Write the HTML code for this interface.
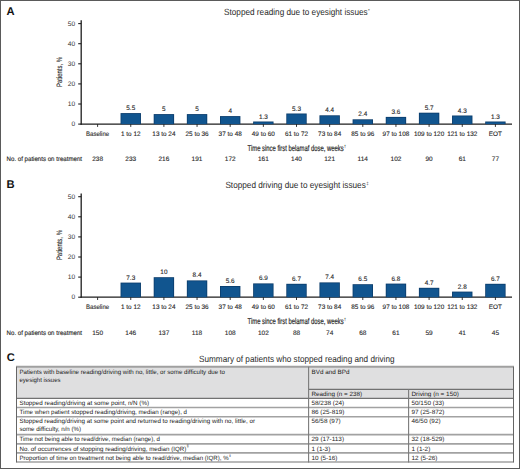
<!DOCTYPE html>
<html><head><meta charset="utf-8"><style>
html,body{margin:0;padding:0;background:#fff;}
body{width:520px;height:469px;overflow:hidden;position:relative;font-family:"Liberation Sans", sans-serif;}
svg{position:absolute;left:0;top:0;font-family:"Liberation Sans", sans-serif;text-rendering:geometricPrecision;}
</style></head><body>
<svg width="520" height="469" viewBox="0 0 520 469">
<rect x="0" y="0" width="520" height="469" fill="#fff"/>
<text x="6.6" y="15" font-size="11.2" font-weight="bold" fill="#111">A</text>
<text x="224" y="15.3" font-size="9" fill="#2a2a2a" textLength="143.7" lengthAdjust="spacingAndGlyphs">Stopped reading due to eyesight issues</text>
<text x="368.09999999999997" y="12.2" font-size="4.5" fill="#2a2a2a">*</text>
<line x1="81.2" y1="20.3" x2="81.2" y2="124.69999999999999" stroke="#1e1e1e" stroke-width="1.3"/>
<line x1="78.2" y1="124.10" x2="81.2" y2="124.10" stroke="#1e1e1e" stroke-width="1.1"/>
<text x="75.2" y="126.00" font-size="6.6" fill="#333" text-anchor="end">0</text>
<line x1="78.2" y1="104.00" x2="81.2" y2="104.00" stroke="#1e1e1e" stroke-width="1.1"/>
<text x="75.2" y="105.90" font-size="6.6" fill="#333" text-anchor="end">10</text>
<line x1="78.2" y1="83.90" x2="81.2" y2="83.90" stroke="#1e1e1e" stroke-width="1.1"/>
<text x="75.2" y="85.80" font-size="6.6" fill="#333" text-anchor="end">20</text>
<line x1="78.2" y1="63.80" x2="81.2" y2="63.80" stroke="#1e1e1e" stroke-width="1.1"/>
<text x="75.2" y="65.70" font-size="6.6" fill="#333" text-anchor="end">30</text>
<line x1="78.2" y1="43.70" x2="81.2" y2="43.70" stroke="#1e1e1e" stroke-width="1.1"/>
<text x="75.2" y="45.60" font-size="6.6" fill="#333" text-anchor="end">40</text>
<line x1="78.2" y1="23.60" x2="81.2" y2="23.60" stroke="#1e1e1e" stroke-width="1.1"/>
<text x="75.2" y="25.50" font-size="6.6" fill="#333" text-anchor="end">50</text>
<text transform="translate(62.3,72) rotate(-90)" font-size="7.8" fill="#2a2a2a" stroke="#2a2a2a" stroke-width="0.12" text-anchor="middle" textLength="30" lengthAdjust="spacingAndGlyphs">Patients, %</text>
<line x1="80.6" y1="124.1" x2="512" y2="124.1" stroke="#1e1e1e" stroke-width="1.3"/>
<line x1="97.60" y1="124.1" x2="97.60" y2="126.89999999999999" stroke="#1e1e1e" stroke-width="0.9"/>
<text x="97.60" y="136" font-size="6.4" fill="#2a2a2a" stroke="#2a2a2a" stroke-width="0.12" text-anchor="middle" textLength="23.08" lengthAdjust="spacingAndGlyphs">Baseline</text>
<text x="97.60" y="161.4" font-size="6.5" fill="#2a2a2a" stroke="#2a2a2a" stroke-width="0.12" text-anchor="middle">238</text>
<rect x="120.55" y="113.10" width="20.4" height="11.00" fill="#0b3c6b"/>
<rect x="121.35" y="113.90" width="18.799999999999997" height="10.20" fill="#11558f"/>
<text x="130.75" y="110.10" font-size="6.4" fill="#2a2a2a" stroke="#2a2a2a" stroke-width="0.12" text-anchor="middle">5.5</text>
<line x1="130.75" y1="124.1" x2="130.75" y2="126.89999999999999" stroke="#1e1e1e" stroke-width="0.9"/>
<text x="130.75" y="136" font-size="6.4" fill="#2a2a2a" stroke="#2a2a2a" stroke-width="0.12" text-anchor="middle" textLength="19.57" lengthAdjust="spacingAndGlyphs">1 to 12</text>
<text x="130.75" y="161.4" font-size="6.5" fill="#2a2a2a" stroke="#2a2a2a" stroke-width="0.12" text-anchor="middle">233</text>
<rect x="153.70" y="114.10" width="20.4" height="10.00" fill="#0b3c6b"/>
<rect x="154.50" y="114.90" width="18.799999999999997" height="9.20" fill="#11558f"/>
<text x="163.90" y="111.10" font-size="6.4" fill="#2a2a2a" stroke="#2a2a2a" stroke-width="0.12" text-anchor="middle">5</text>
<line x1="163.90" y1="124.1" x2="163.90" y2="126.89999999999999" stroke="#1e1e1e" stroke-width="0.9"/>
<text x="163.90" y="136" font-size="6.4" fill="#2a2a2a" stroke="#2a2a2a" stroke-width="0.12" text-anchor="middle" textLength="23.13" lengthAdjust="spacingAndGlyphs">13 to 24</text>
<text x="163.90" y="161.4" font-size="6.5" fill="#2a2a2a" stroke="#2a2a2a" stroke-width="0.12" text-anchor="middle">216</text>
<rect x="186.85" y="114.10" width="20.4" height="10.00" fill="#0b3c6b"/>
<rect x="187.65" y="114.90" width="18.799999999999997" height="9.20" fill="#11558f"/>
<text x="197.05" y="111.10" font-size="6.4" fill="#2a2a2a" stroke="#2a2a2a" stroke-width="0.12" text-anchor="middle">5</text>
<line x1="197.05" y1="124.1" x2="197.05" y2="126.89999999999999" stroke="#1e1e1e" stroke-width="0.9"/>
<text x="197.05" y="136" font-size="6.4" fill="#2a2a2a" stroke="#2a2a2a" stroke-width="0.12" text-anchor="middle" textLength="23.13" lengthAdjust="spacingAndGlyphs">25 to 36</text>
<text x="197.05" y="161.4" font-size="6.5" fill="#2a2a2a" stroke="#2a2a2a" stroke-width="0.12" text-anchor="middle">191</text>
<rect x="220.00" y="116.10" width="20.4" height="8.00" fill="#0b3c6b"/>
<rect x="220.80" y="116.90" width="18.799999999999997" height="7.20" fill="#11558f"/>
<text x="230.20" y="113.10" font-size="6.4" fill="#2a2a2a" stroke="#2a2a2a" stroke-width="0.12" text-anchor="middle">4</text>
<line x1="230.20" y1="124.1" x2="230.20" y2="126.89999999999999" stroke="#1e1e1e" stroke-width="0.9"/>
<text x="230.20" y="136" font-size="6.4" fill="#2a2a2a" stroke="#2a2a2a" stroke-width="0.12" text-anchor="middle" textLength="23.13" lengthAdjust="spacingAndGlyphs">37 to 48</text>
<text x="230.20" y="161.4" font-size="6.5" fill="#2a2a2a" stroke="#2a2a2a" stroke-width="0.12" text-anchor="middle">172</text>
<rect x="253.15" y="121.50" width="20.4" height="2.60" fill="#0b3c6b"/>
<rect x="253.95" y="122.30" width="18.799999999999997" height="1.80" fill="#11558f"/>
<text x="263.35" y="118.50" font-size="6.4" fill="#2a2a2a" stroke="#2a2a2a" stroke-width="0.12" text-anchor="middle">1.3</text>
<line x1="263.35" y1="124.1" x2="263.35" y2="126.89999999999999" stroke="#1e1e1e" stroke-width="0.9"/>
<text x="263.35" y="136" font-size="6.4" fill="#2a2a2a" stroke="#2a2a2a" stroke-width="0.12" text-anchor="middle" textLength="23.13" lengthAdjust="spacingAndGlyphs">49 to 60</text>
<text x="263.35" y="161.4" font-size="6.5" fill="#2a2a2a" stroke="#2a2a2a" stroke-width="0.12" text-anchor="middle">161</text>
<rect x="286.30" y="113.50" width="20.4" height="10.60" fill="#0b3c6b"/>
<rect x="287.10" y="114.30" width="18.799999999999997" height="9.80" fill="#11558f"/>
<text x="296.50" y="110.50" font-size="6.4" fill="#2a2a2a" stroke="#2a2a2a" stroke-width="0.12" text-anchor="middle">5.3</text>
<line x1="296.50" y1="124.1" x2="296.50" y2="126.89999999999999" stroke="#1e1e1e" stroke-width="0.9"/>
<text x="296.50" y="136" font-size="6.4" fill="#2a2a2a" stroke="#2a2a2a" stroke-width="0.12" text-anchor="middle" textLength="23.13" lengthAdjust="spacingAndGlyphs">61 to 72</text>
<text x="296.50" y="161.4" font-size="6.5" fill="#2a2a2a" stroke="#2a2a2a" stroke-width="0.12" text-anchor="middle">140</text>
<rect x="319.45" y="115.30" width="20.4" height="8.80" fill="#0b3c6b"/>
<rect x="320.25" y="116.10" width="18.799999999999997" height="8.00" fill="#11558f"/>
<text x="329.65" y="112.30" font-size="6.4" fill="#2a2a2a" stroke="#2a2a2a" stroke-width="0.12" text-anchor="middle">4.4</text>
<line x1="329.65" y1="124.1" x2="329.65" y2="126.89999999999999" stroke="#1e1e1e" stroke-width="0.9"/>
<text x="329.65" y="136" font-size="6.4" fill="#2a2a2a" stroke="#2a2a2a" stroke-width="0.12" text-anchor="middle" textLength="23.13" lengthAdjust="spacingAndGlyphs">73 to 84</text>
<text x="329.65" y="161.4" font-size="6.5" fill="#2a2a2a" stroke="#2a2a2a" stroke-width="0.12" text-anchor="middle">121</text>
<rect x="352.60" y="119.30" width="20.4" height="4.80" fill="#0b3c6b"/>
<rect x="353.40" y="120.10" width="18.799999999999997" height="4.00" fill="#11558f"/>
<text x="362.80" y="116.30" font-size="6.4" fill="#2a2a2a" stroke="#2a2a2a" stroke-width="0.12" text-anchor="middle">2.4</text>
<line x1="362.80" y1="124.1" x2="362.80" y2="126.89999999999999" stroke="#1e1e1e" stroke-width="0.9"/>
<text x="362.80" y="136" font-size="6.4" fill="#2a2a2a" stroke="#2a2a2a" stroke-width="0.12" text-anchor="middle" textLength="23.13" lengthAdjust="spacingAndGlyphs">85 to 96</text>
<text x="362.80" y="161.4" font-size="6.5" fill="#2a2a2a" stroke="#2a2a2a" stroke-width="0.12" text-anchor="middle">114</text>
<rect x="385.75" y="116.90" width="20.4" height="7.20" fill="#0b3c6b"/>
<rect x="386.55" y="117.70" width="18.799999999999997" height="6.40" fill="#11558f"/>
<text x="395.95" y="113.90" font-size="6.4" fill="#2a2a2a" stroke="#2a2a2a" stroke-width="0.12" text-anchor="middle">3.6</text>
<line x1="395.95" y1="124.1" x2="395.95" y2="126.89999999999999" stroke="#1e1e1e" stroke-width="0.9"/>
<text x="395.95" y="136" font-size="6.4" fill="#2a2a2a" stroke="#2a2a2a" stroke-width="0.12" text-anchor="middle" textLength="26.69" lengthAdjust="spacingAndGlyphs">97 to 108</text>
<text x="395.95" y="161.4" font-size="6.5" fill="#2a2a2a" stroke="#2a2a2a" stroke-width="0.12" text-anchor="middle">102</text>
<rect x="418.90" y="112.70" width="20.4" height="11.40" fill="#0b3c6b"/>
<rect x="419.70" y="113.50" width="18.799999999999997" height="10.60" fill="#11558f"/>
<text x="429.10" y="109.70" font-size="6.4" fill="#2a2a2a" stroke="#2a2a2a" stroke-width="0.12" text-anchor="middle">5.7</text>
<line x1="429.10" y1="124.1" x2="429.10" y2="126.89999999999999" stroke="#1e1e1e" stroke-width="0.9"/>
<text x="429.10" y="136" font-size="6.4" fill="#2a2a2a" stroke="#2a2a2a" stroke-width="0.12" text-anchor="middle" textLength="30.25" lengthAdjust="spacingAndGlyphs">109 to 120</text>
<text x="429.10" y="161.4" font-size="6.5" fill="#2a2a2a" stroke="#2a2a2a" stroke-width="0.12" text-anchor="middle">90</text>
<rect x="452.05" y="115.50" width="20.4" height="8.60" fill="#0b3c6b"/>
<rect x="452.85" y="116.30" width="18.799999999999997" height="7.80" fill="#11558f"/>
<text x="462.25" y="112.50" font-size="6.4" fill="#2a2a2a" stroke="#2a2a2a" stroke-width="0.12" text-anchor="middle">4.3</text>
<line x1="462.25" y1="124.1" x2="462.25" y2="126.89999999999999" stroke="#1e1e1e" stroke-width="0.9"/>
<text x="462.25" y="136" font-size="6.4" fill="#2a2a2a" stroke="#2a2a2a" stroke-width="0.12" text-anchor="middle" textLength="30.25" lengthAdjust="spacingAndGlyphs">121 to 132</text>
<text x="462.25" y="161.4" font-size="6.5" fill="#2a2a2a" stroke="#2a2a2a" stroke-width="0.12" text-anchor="middle">61</text>
<rect x="485.20" y="121.50" width="20.4" height="2.60" fill="#0b3c6b"/>
<rect x="486.00" y="122.30" width="18.799999999999997" height="1.80" fill="#11558f"/>
<text x="495.40" y="118.50" font-size="6.4" fill="#2a2a2a" stroke="#2a2a2a" stroke-width="0.12" text-anchor="middle">1.3</text>
<line x1="495.40" y1="124.1" x2="495.40" y2="126.89999999999999" stroke="#1e1e1e" stroke-width="0.9"/>
<text x="495.40" y="136" font-size="6.4" fill="#2a2a2a" stroke="#2a2a2a" stroke-width="0.12" text-anchor="middle" textLength="13.16" lengthAdjust="spacingAndGlyphs">EOT</text>
<text x="495.40" y="161.4" font-size="6.5" fill="#2a2a2a" stroke="#2a2a2a" stroke-width="0.12" text-anchor="middle">77</text>
<text x="247.6" y="150.6" font-size="8.4" fill="#2a2a2a" stroke="#2a2a2a" stroke-width="0.2" textLength="96" lengthAdjust="spacingAndGlyphs">Time since first belamaf dose, weeks</text>
<text x="343.8" y="148.1" font-size="4.5" fill="#2a2a2a">†</text>
<text x="6.6" y="161.4" font-size="6.6" fill="#2a2a2a" stroke="#2a2a2a" stroke-width="0.15" textLength="75.4" lengthAdjust="spacingAndGlyphs">No. of patients on treatment</text>
<text x="6.6" y="188.1" font-size="11.2" font-weight="bold" fill="#111">B</text>
<text x="225.4" y="188.4" font-size="9" fill="#2a2a2a" textLength="140.4" lengthAdjust="spacingAndGlyphs">Stopped driving due to eyesight issues</text>
<text x="366.2" y="185.29999999999998" font-size="4.5" fill="#2a2a2a">‡</text>
<line x1="81.2" y1="193.4" x2="81.2" y2="297.8" stroke="#1e1e1e" stroke-width="1.3"/>
<line x1="78.2" y1="297.20" x2="81.2" y2="297.20" stroke="#1e1e1e" stroke-width="1.1"/>
<text x="75.2" y="299.10" font-size="6.6" fill="#333" text-anchor="end">0</text>
<line x1="78.2" y1="277.10" x2="81.2" y2="277.10" stroke="#1e1e1e" stroke-width="1.1"/>
<text x="75.2" y="279.00" font-size="6.6" fill="#333" text-anchor="end">10</text>
<line x1="78.2" y1="257.00" x2="81.2" y2="257.00" stroke="#1e1e1e" stroke-width="1.1"/>
<text x="75.2" y="258.90" font-size="6.6" fill="#333" text-anchor="end">20</text>
<line x1="78.2" y1="236.90" x2="81.2" y2="236.90" stroke="#1e1e1e" stroke-width="1.1"/>
<text x="75.2" y="238.80" font-size="6.6" fill="#333" text-anchor="end">30</text>
<line x1="78.2" y1="216.80" x2="81.2" y2="216.80" stroke="#1e1e1e" stroke-width="1.1"/>
<text x="75.2" y="218.70" font-size="6.6" fill="#333" text-anchor="end">40</text>
<line x1="78.2" y1="196.70" x2="81.2" y2="196.70" stroke="#1e1e1e" stroke-width="1.1"/>
<text x="75.2" y="198.60" font-size="6.6" fill="#333" text-anchor="end">50</text>
<text transform="translate(62.3,245.1) rotate(-90)" font-size="7.8" fill="#2a2a2a" stroke="#2a2a2a" stroke-width="0.12" text-anchor="middle" textLength="30" lengthAdjust="spacingAndGlyphs">Patients, %</text>
<line x1="80.6" y1="297.2" x2="512" y2="297.2" stroke="#1e1e1e" stroke-width="1.3"/>
<line x1="97.60" y1="297.2" x2="97.60" y2="300.0" stroke="#1e1e1e" stroke-width="0.9"/>
<text x="97.60" y="309.1" font-size="6.4" fill="#2a2a2a" stroke="#2a2a2a" stroke-width="0.12" text-anchor="middle" textLength="23.08" lengthAdjust="spacingAndGlyphs">Baseline</text>
<text x="97.60" y="334.5" font-size="6.5" fill="#2a2a2a" stroke="#2a2a2a" stroke-width="0.12" text-anchor="middle">150</text>
<rect x="120.55" y="282.60" width="20.4" height="14.60" fill="#0b3c6b"/>
<rect x="121.35" y="283.40" width="18.799999999999997" height="13.80" fill="#11558f"/>
<text x="130.75" y="279.60" font-size="6.4" fill="#2a2a2a" stroke="#2a2a2a" stroke-width="0.12" text-anchor="middle">7.3</text>
<line x1="130.75" y1="297.2" x2="130.75" y2="300.0" stroke="#1e1e1e" stroke-width="0.9"/>
<text x="130.75" y="309.1" font-size="6.4" fill="#2a2a2a" stroke="#2a2a2a" stroke-width="0.12" text-anchor="middle" textLength="19.57" lengthAdjust="spacingAndGlyphs">1 to 12</text>
<text x="130.75" y="334.5" font-size="6.5" fill="#2a2a2a" stroke="#2a2a2a" stroke-width="0.12" text-anchor="middle">146</text>
<rect x="153.70" y="277.20" width="20.4" height="20.00" fill="#0b3c6b"/>
<rect x="154.50" y="278.00" width="18.799999999999997" height="19.20" fill="#11558f"/>
<text x="163.90" y="274.20" font-size="6.4" fill="#2a2a2a" stroke="#2a2a2a" stroke-width="0.12" text-anchor="middle">10</text>
<line x1="163.90" y1="297.2" x2="163.90" y2="300.0" stroke="#1e1e1e" stroke-width="0.9"/>
<text x="163.90" y="309.1" font-size="6.4" fill="#2a2a2a" stroke="#2a2a2a" stroke-width="0.12" text-anchor="middle" textLength="23.13" lengthAdjust="spacingAndGlyphs">13 to 24</text>
<text x="163.90" y="334.5" font-size="6.5" fill="#2a2a2a" stroke="#2a2a2a" stroke-width="0.12" text-anchor="middle">137</text>
<rect x="186.85" y="280.40" width="20.4" height="16.80" fill="#0b3c6b"/>
<rect x="187.65" y="281.20" width="18.799999999999997" height="16.00" fill="#11558f"/>
<text x="197.05" y="277.40" font-size="6.4" fill="#2a2a2a" stroke="#2a2a2a" stroke-width="0.12" text-anchor="middle">8.4</text>
<line x1="197.05" y1="297.2" x2="197.05" y2="300.0" stroke="#1e1e1e" stroke-width="0.9"/>
<text x="197.05" y="309.1" font-size="6.4" fill="#2a2a2a" stroke="#2a2a2a" stroke-width="0.12" text-anchor="middle" textLength="23.13" lengthAdjust="spacingAndGlyphs">25 to 36</text>
<text x="197.05" y="334.5" font-size="6.5" fill="#2a2a2a" stroke="#2a2a2a" stroke-width="0.12" text-anchor="middle">118</text>
<rect x="220.00" y="286.00" width="20.4" height="11.20" fill="#0b3c6b"/>
<rect x="220.80" y="286.80" width="18.799999999999997" height="10.40" fill="#11558f"/>
<text x="230.20" y="283.00" font-size="6.4" fill="#2a2a2a" stroke="#2a2a2a" stroke-width="0.12" text-anchor="middle">5.6</text>
<line x1="230.20" y1="297.2" x2="230.20" y2="300.0" stroke="#1e1e1e" stroke-width="0.9"/>
<text x="230.20" y="309.1" font-size="6.4" fill="#2a2a2a" stroke="#2a2a2a" stroke-width="0.12" text-anchor="middle" textLength="23.13" lengthAdjust="spacingAndGlyphs">37 to 48</text>
<text x="230.20" y="334.5" font-size="6.5" fill="#2a2a2a" stroke="#2a2a2a" stroke-width="0.12" text-anchor="middle">108</text>
<rect x="253.15" y="283.40" width="20.4" height="13.80" fill="#0b3c6b"/>
<rect x="253.95" y="284.20" width="18.799999999999997" height="13.00" fill="#11558f"/>
<text x="263.35" y="280.40" font-size="6.4" fill="#2a2a2a" stroke="#2a2a2a" stroke-width="0.12" text-anchor="middle">6.9</text>
<line x1="263.35" y1="297.2" x2="263.35" y2="300.0" stroke="#1e1e1e" stroke-width="0.9"/>
<text x="263.35" y="309.1" font-size="6.4" fill="#2a2a2a" stroke="#2a2a2a" stroke-width="0.12" text-anchor="middle" textLength="23.13" lengthAdjust="spacingAndGlyphs">49 to 60</text>
<text x="263.35" y="334.5" font-size="6.5" fill="#2a2a2a" stroke="#2a2a2a" stroke-width="0.12" text-anchor="middle">102</text>
<rect x="286.30" y="283.80" width="20.4" height="13.40" fill="#0b3c6b"/>
<rect x="287.10" y="284.60" width="18.799999999999997" height="12.60" fill="#11558f"/>
<text x="296.50" y="280.80" font-size="6.4" fill="#2a2a2a" stroke="#2a2a2a" stroke-width="0.12" text-anchor="middle">6.7</text>
<line x1="296.50" y1="297.2" x2="296.50" y2="300.0" stroke="#1e1e1e" stroke-width="0.9"/>
<text x="296.50" y="309.1" font-size="6.4" fill="#2a2a2a" stroke="#2a2a2a" stroke-width="0.12" text-anchor="middle" textLength="23.13" lengthAdjust="spacingAndGlyphs">61 to 72</text>
<text x="296.50" y="334.5" font-size="6.5" fill="#2a2a2a" stroke="#2a2a2a" stroke-width="0.12" text-anchor="middle">88</text>
<rect x="319.45" y="282.40" width="20.4" height="14.80" fill="#0b3c6b"/>
<rect x="320.25" y="283.20" width="18.799999999999997" height="14.00" fill="#11558f"/>
<text x="329.65" y="279.40" font-size="6.4" fill="#2a2a2a" stroke="#2a2a2a" stroke-width="0.12" text-anchor="middle">7.4</text>
<line x1="329.65" y1="297.2" x2="329.65" y2="300.0" stroke="#1e1e1e" stroke-width="0.9"/>
<text x="329.65" y="309.1" font-size="6.4" fill="#2a2a2a" stroke="#2a2a2a" stroke-width="0.12" text-anchor="middle" textLength="23.13" lengthAdjust="spacingAndGlyphs">73 to 84</text>
<text x="329.65" y="334.5" font-size="6.5" fill="#2a2a2a" stroke="#2a2a2a" stroke-width="0.12" text-anchor="middle">74</text>
<rect x="352.60" y="284.20" width="20.4" height="13.00" fill="#0b3c6b"/>
<rect x="353.40" y="285.00" width="18.799999999999997" height="12.20" fill="#11558f"/>
<text x="362.80" y="281.20" font-size="6.4" fill="#2a2a2a" stroke="#2a2a2a" stroke-width="0.12" text-anchor="middle">6.5</text>
<line x1="362.80" y1="297.2" x2="362.80" y2="300.0" stroke="#1e1e1e" stroke-width="0.9"/>
<text x="362.80" y="309.1" font-size="6.4" fill="#2a2a2a" stroke="#2a2a2a" stroke-width="0.12" text-anchor="middle" textLength="23.13" lengthAdjust="spacingAndGlyphs">85 to 96</text>
<text x="362.80" y="334.5" font-size="6.5" fill="#2a2a2a" stroke="#2a2a2a" stroke-width="0.12" text-anchor="middle">68</text>
<rect x="385.75" y="283.60" width="20.4" height="13.60" fill="#0b3c6b"/>
<rect x="386.55" y="284.40" width="18.799999999999997" height="12.80" fill="#11558f"/>
<text x="395.95" y="280.60" font-size="6.4" fill="#2a2a2a" stroke="#2a2a2a" stroke-width="0.12" text-anchor="middle">6.8</text>
<line x1="395.95" y1="297.2" x2="395.95" y2="300.0" stroke="#1e1e1e" stroke-width="0.9"/>
<text x="395.95" y="309.1" font-size="6.4" fill="#2a2a2a" stroke="#2a2a2a" stroke-width="0.12" text-anchor="middle" textLength="26.69" lengthAdjust="spacingAndGlyphs">97 to 108</text>
<text x="395.95" y="334.5" font-size="6.5" fill="#2a2a2a" stroke="#2a2a2a" stroke-width="0.12" text-anchor="middle">61</text>
<rect x="418.90" y="287.80" width="20.4" height="9.40" fill="#0b3c6b"/>
<rect x="419.70" y="288.60" width="18.799999999999997" height="8.60" fill="#11558f"/>
<text x="429.10" y="284.80" font-size="6.4" fill="#2a2a2a" stroke="#2a2a2a" stroke-width="0.12" text-anchor="middle">4.7</text>
<line x1="429.10" y1="297.2" x2="429.10" y2="300.0" stroke="#1e1e1e" stroke-width="0.9"/>
<text x="429.10" y="309.1" font-size="6.4" fill="#2a2a2a" stroke="#2a2a2a" stroke-width="0.12" text-anchor="middle" textLength="30.25" lengthAdjust="spacingAndGlyphs">109 to 120</text>
<text x="429.10" y="334.5" font-size="6.5" fill="#2a2a2a" stroke="#2a2a2a" stroke-width="0.12" text-anchor="middle">59</text>
<rect x="452.05" y="291.60" width="20.4" height="5.60" fill="#0b3c6b"/>
<rect x="452.85" y="292.40" width="18.799999999999997" height="4.80" fill="#11558f"/>
<text x="462.25" y="288.60" font-size="6.4" fill="#2a2a2a" stroke="#2a2a2a" stroke-width="0.12" text-anchor="middle">2.8</text>
<line x1="462.25" y1="297.2" x2="462.25" y2="300.0" stroke="#1e1e1e" stroke-width="0.9"/>
<text x="462.25" y="309.1" font-size="6.4" fill="#2a2a2a" stroke="#2a2a2a" stroke-width="0.12" text-anchor="middle" textLength="30.25" lengthAdjust="spacingAndGlyphs">121 to 132</text>
<text x="462.25" y="334.5" font-size="6.5" fill="#2a2a2a" stroke="#2a2a2a" stroke-width="0.12" text-anchor="middle">41</text>
<rect x="485.20" y="283.80" width="20.4" height="13.40" fill="#0b3c6b"/>
<rect x="486.00" y="284.60" width="18.799999999999997" height="12.60" fill="#11558f"/>
<text x="495.40" y="280.80" font-size="6.4" fill="#2a2a2a" stroke="#2a2a2a" stroke-width="0.12" text-anchor="middle">6.7</text>
<line x1="495.40" y1="297.2" x2="495.40" y2="300.0" stroke="#1e1e1e" stroke-width="0.9"/>
<text x="495.40" y="309.1" font-size="6.4" fill="#2a2a2a" stroke="#2a2a2a" stroke-width="0.12" text-anchor="middle" textLength="13.16" lengthAdjust="spacingAndGlyphs">EOT</text>
<text x="495.40" y="334.5" font-size="6.5" fill="#2a2a2a" stroke="#2a2a2a" stroke-width="0.12" text-anchor="middle">45</text>
<text x="247.6" y="323.7" font-size="8.4" fill="#2a2a2a" stroke="#2a2a2a" stroke-width="0.2" textLength="96" lengthAdjust="spacingAndGlyphs">Time since first belamaf dose, weeks</text>
<text x="343.8" y="321.2" font-size="4.5" fill="#2a2a2a">†</text>
<text x="6.6" y="334.5" font-size="6.6" fill="#2a2a2a" stroke="#2a2a2a" stroke-width="0.15" textLength="75.4" lengthAdjust="spacingAndGlyphs">No. of patients on treatment</text>
<text x="6.8" y="361.2" font-size="11.2" font-weight="bold" fill="#111">C</text>
<text x="199" y="361.5" font-size="9" fill="#2a2a2a" textLength="195.5" lengthAdjust="spacingAndGlyphs">Summary of patients who stopped reading and driving</text>
<rect x="16.5" y="366.8" width="497.0" height="31.5" fill="#dfdfe0"/>
<line x1="16.0" y1="366.8" x2="514.0" y2="366.8" stroke="#a0a0a0" stroke-width="2"/>
<line x1="308.6" y1="389.3" x2="513.5" y2="389.3" stroke="#555" stroke-width="1"/>
<line x1="16.5" y1="398.4" x2="513.5" y2="398.4" stroke="#727272" stroke-width="1.2"/>
<line x1="16.5" y1="407.5" x2="513.5" y2="407.5" stroke="#a2a2a2" stroke-width="1.6"/>
<line x1="16.5" y1="416.7" x2="513.5" y2="416.7" stroke="#a2a2a2" stroke-width="1.6"/>
<line x1="16.5" y1="434.6" x2="513.5" y2="434.6" stroke="#a2a2a2" stroke-width="1.6"/>
<line x1="16.5" y1="443.9" x2="513.5" y2="443.9" stroke="#a2a2a2" stroke-width="1.6"/>
<line x1="16.5" y1="452.9" x2="513.5" y2="452.9" stroke="#a2a2a2" stroke-width="1.6"/>
<line x1="16.5" y1="462.0" x2="513.5" y2="462.0" stroke="#a2a2a2" stroke-width="1.6"/>
<line x1="16.5" y1="366.8" x2="16.5" y2="462.5" stroke="#666" stroke-width="1"/>
<line x1="513.5" y1="366.8" x2="513.5" y2="462.5" stroke="#666" stroke-width="1"/>
<line x1="308.6" y1="366.8" x2="308.6" y2="462.5" stroke="#7a7a7a" stroke-width="1.1"/>
<line x1="408.6" y1="389.3" x2="408.6" y2="462.5" stroke="#7a7a7a" stroke-width="1.1"/>
<text x="19.5" y="373.6" font-size="6.2" fill="#222" stroke="none" textLength="205.50" lengthAdjust="spacingAndGlyphs">Patients with baseline reading/driving with no, little, or some difficulty due to</text>
<text x="19.5" y="381.7" font-size="6.2" fill="#222" stroke="none" textLength="41.00" lengthAdjust="spacingAndGlyphs">eyesight issues</text>
<text x="311.5" y="373.6" font-size="6.2" fill="#222" stroke="none" textLength="37.90" lengthAdjust="spacingAndGlyphs">BVd and BPd</text>
<text x="311.5" y="395.8" font-size="6.2" fill="#222" stroke="none" textLength="50.50" lengthAdjust="spacingAndGlyphs">Reading (n = 238)</text>
<text x="411.5" y="395.8" font-size="6.2" fill="#222" stroke="none" textLength="47.40" lengthAdjust="spacingAndGlyphs">Driving (n = 150)</text>
<text x="19.5" y="405.0" font-size="6.2" fill="#222" stroke="none" textLength="129.50" lengthAdjust="spacingAndGlyphs">Stopped reading/driving at some point, n/N (%)</text>
<text x="311.5" y="405.0" font-size="6.2" fill="#222" stroke="none" textLength="32.66" lengthAdjust="spacingAndGlyphs">58/238 (24)</text>
<text x="411.5" y="405.0" font-size="6.2" fill="#222" stroke="none" textLength="32.66" lengthAdjust="spacingAndGlyphs">50/150 (33)</text>
<text x="19.5" y="414.1" font-size="6.2" fill="#222" stroke="none" textLength="167.50" lengthAdjust="spacingAndGlyphs">Time when patient stopped reading/driving, median (range), d</text>
<text x="311.5" y="414.1" font-size="6.2" fill="#222" stroke="none" textLength="33.01" lengthAdjust="spacingAndGlyphs">86 (25-819)</text>
<text x="411.5" y="414.1" font-size="6.2" fill="#222" stroke="none" textLength="33.01" lengthAdjust="spacingAndGlyphs">97 (25-872)</text>
<text x="19.5" y="423.3" font-size="6.2" fill="#222" stroke="none" textLength="235.50" lengthAdjust="spacingAndGlyphs">Stopped reading/driving at some point and returned to reading/driving with no, little, or</text>
<text x="19.5" y="431.3" font-size="6.2" fill="#222" stroke="none" textLength="61.50" lengthAdjust="spacingAndGlyphs">some difficulty, n/n (%)</text>
<text x="311.5" y="423.3" font-size="6.2" fill="#222" stroke="none" textLength="29.11" lengthAdjust="spacingAndGlyphs">56/58 (97)</text>
<text x="411.5" y="423.3" font-size="6.2" fill="#222" stroke="none" textLength="29.11" lengthAdjust="spacingAndGlyphs">46/50 (92)</text>
<text x="19.5" y="441.20000000000005" font-size="6.2" fill="#222" stroke="none" textLength="140.50" lengthAdjust="spacingAndGlyphs">Time not being able to read/drive, median (range), d</text>
<text x="311.5" y="441.20000000000005" font-size="6.2" fill="#222" stroke="none" textLength="32.54" lengthAdjust="spacingAndGlyphs">29 (17-113)</text>
<text x="411.5" y="441.20000000000005" font-size="6.2" fill="#222" stroke="none" textLength="33.01" lengthAdjust="spacingAndGlyphs">32 (18-529)</text>
<text x="19.5" y="450.5" font-size="6.2" fill="#222" stroke="none" textLength="166.80" lengthAdjust="spacingAndGlyphs">No. of occurrences of stopping reading/driving, median (IQR)</text>
<text x="311.5" y="450.5" font-size="6.2" fill="#222" stroke="none" textLength="18.81" lengthAdjust="spacingAndGlyphs">1 (1-3)</text>
<text x="411.5" y="450.5" font-size="6.2" fill="#222" stroke="none" textLength="18.81" lengthAdjust="spacingAndGlyphs">1 (1-2)</text>
<text x="19.5" y="459.5" font-size="6.2" fill="#222" stroke="none" textLength="209.10" lengthAdjust="spacingAndGlyphs">Proportion of time on treatment not being able to read/drive, median (IQR), %</text>
<text x="311.5" y="459.5" font-size="6.2" fill="#222" stroke="none" textLength="25.91" lengthAdjust="spacingAndGlyphs">10 (5-16)</text>
<text x="411.5" y="459.5" font-size="6.2" fill="#222" stroke="none" textLength="25.91" lengthAdjust="spacingAndGlyphs">12 (5-26)</text>
<text x="186.7" y="447.4" font-size="3.6" fill="#2a2a2a">§</text>
<text x="229.2" y="456.6" font-size="3.6" fill="#2a2a2a">ǁ</text>
<rect x="0.5" y="0.5" width="519" height="468" fill="none" stroke="#5a5a5a" stroke-width="1"/>
</svg>
</body></html>
